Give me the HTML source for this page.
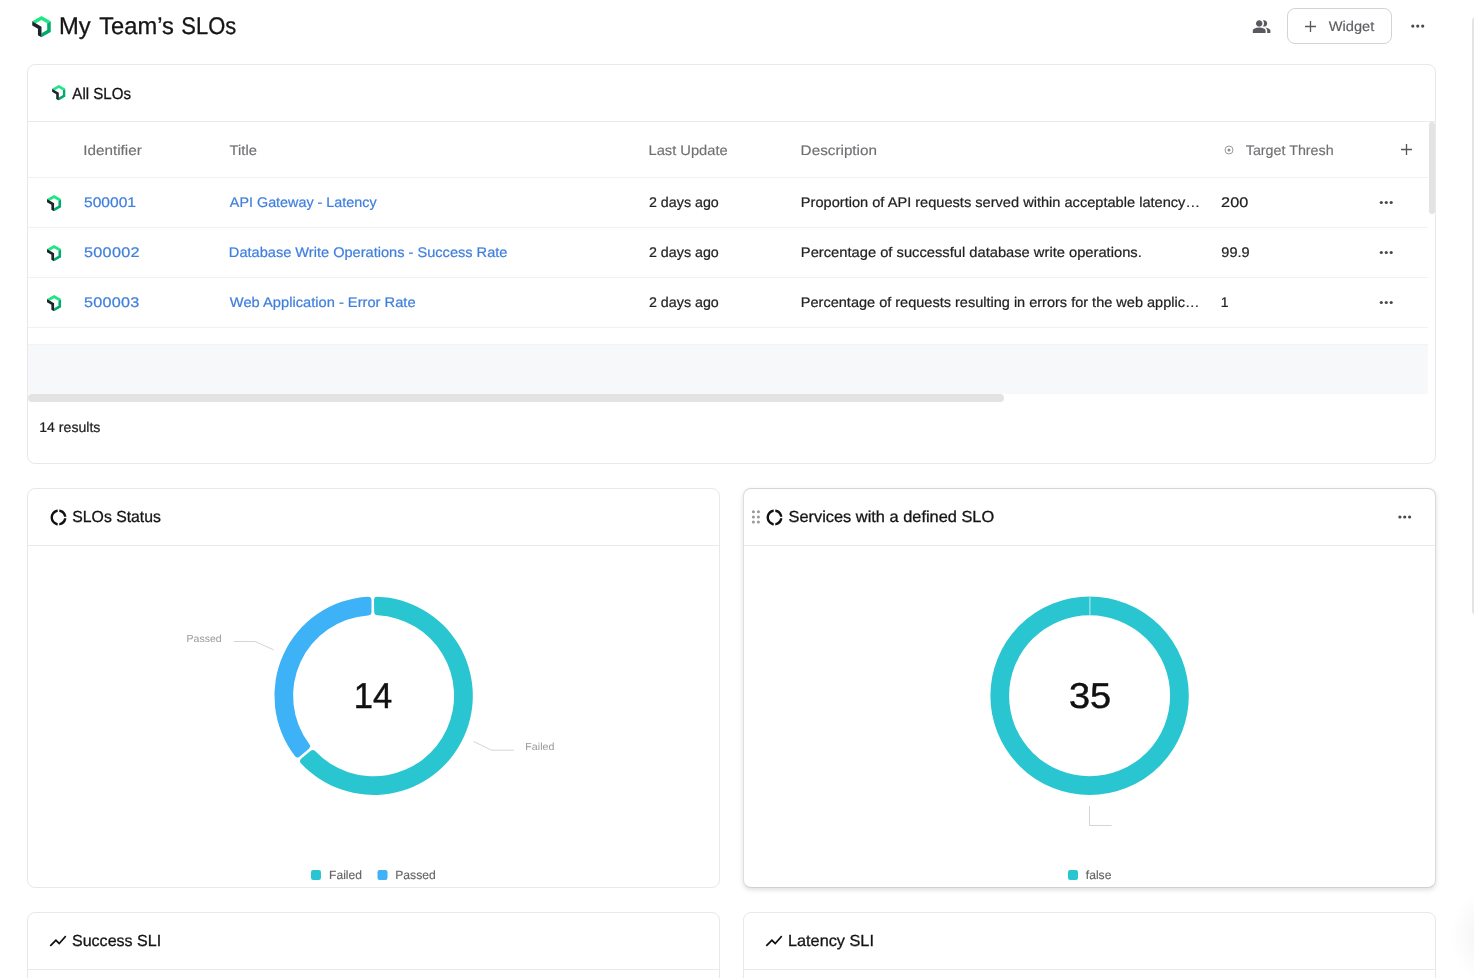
<!DOCTYPE html>
<html lang="en">
<head>
<meta charset="utf-8">
<title>My Team's SLOs</title>
<style>
*{box-sizing:border-box;margin:0;padding:0}
html,body{width:1474px;height:978px;overflow:hidden;background:#fff}
body{position:relative;font-family:"Liberation Sans",Arial,sans-serif;-webkit-font-smoothing:antialiased}
.t{position:absolute;left:0;top:0;white-space:nowrap;font-weight:400;transform-origin:0 0}
#txt{position:absolute;left:0;top:0;width:1474px;height:978px;will-change:transform}
.abs{position:absolute}
.card{position:absolute;background:#fff;border:1px solid #e8e8eb;border-radius:8px}
.hl{position:absolute;height:1px;background:#e9eaf0}
.rl{position:absolute;height:1px;background:#f1f1f4;left:28px;width:1400px}
svg{position:absolute;overflow:visible}
#t_title1{font-size:24px;line-height:24px;color:#151517;transform:matrix(0.9906,0,.001,1,58.95,14);-webkit-text-stroke:0.3px}
#t_title2{font-size:24px;line-height:24px;color:#151517;transform:matrix(0.9871,0,.001,1,99.25,14);-webkit-text-stroke:0.3px}
#t_title3{font-size:24px;line-height:24px;color:#151517;transform:matrix(0.9142,0,.001,1,181.35,14);-webkit-text-stroke:0.3px}
#t_all{font-size:16px;line-height:16px;color:#151517;transform:matrix(0.9414,0,.001,1,72.35,86);-webkit-text-stroke:0.3px}
#h_id{font-size:14px;line-height:14px;color:#707074;transform:matrix(1.0884,0,.001,1,83.25,143);-webkit-text-stroke:0.15px}
#h_title{font-size:14px;line-height:14px;color:#707074;transform:matrix(1.0551,0,.001,1,229.55,143);-webkit-text-stroke:0.15px}
#h_upd{font-size:14px;line-height:14px;color:#707074;transform:matrix(1.0497,0,.001,1,648.45,143);-webkit-text-stroke:0.15px}
#h_desc{font-size:14px;line-height:14px;color:#707074;transform:matrix(1.0907,0,.001,1,800.60,143);-webkit-text-stroke:0.15px}
#h_tgt{font-size:14px;line-height:14px;color:#707074;transform:matrix(1.0206,0,.001,1,1245.75,143);-webkit-text-stroke:0.15px}
#r1_id{font-size:14px;line-height:14px;color:#3f7fdd;transform:matrix(1.1134,0,.001,1,84.00,195);-webkit-text-stroke:0.22px}
#r2_id{font-size:14px;line-height:14px;color:#3f7fdd;transform:matrix(1.1600,0,.001,1,84.00,245);letter-spacing:0.236px;-webkit-text-stroke:0.22px}
#r3_id{font-size:14px;line-height:14px;color:#3f7fdd;transform:matrix(1.1600,0,.001,1,84.00,295);letter-spacing:0.193px;-webkit-text-stroke:0.22px}
#r1_t{font-size:14px;line-height:14px;color:#3f7fdd;transform:matrix(1.0248,0,.001,1,229.85,195);-webkit-text-stroke:0.22px}
#r2_t{font-size:14px;line-height:14px;color:#3f7fdd;transform:matrix(1.0417,0,.001,1,228.85,245);-webkit-text-stroke:0.22px}
#r3_t{font-size:14px;line-height:14px;color:#3f7fdd;transform:matrix(1.0481,0,.001,1,229.85,295);-webkit-text-stroke:0.22px}
#r1_u{font-size:14px;line-height:14px;color:#222225;transform:matrix(1.0197,0,.001,1,648.95,195);-webkit-text-stroke:0.22px}
#r2_u{font-size:14px;line-height:14px;color:#222225;transform:matrix(1.0197,0,.001,1,648.95,245);-webkit-text-stroke:0.22px}
#r3_u{font-size:14px;line-height:14px;color:#222225;transform:matrix(1.0197,0,.001,1,648.95,295);-webkit-text-stroke:0.22px}
#r1_d{font-size:14px;line-height:14px;color:#222225;transform:matrix(1.0424,0,.001,1,800.85,195);-webkit-text-stroke:0.22px}
#r2_d{font-size:14px;line-height:14px;color:#222225;transform:matrix(1.0505,0,.001,1,800.85,245);-webkit-text-stroke:0.22px}
#r3_d{font-size:14px;line-height:14px;color:#222225;transform:matrix(1.0368,0,.001,1,800.85,295);-webkit-text-stroke:0.22px}
#r1_v{font-size:14px;line-height:14px;color:#222225;transform:matrix(1.1600,0,.001,1,1221.10,195);letter-spacing:0.058px;-webkit-text-stroke:0.22px}
#r2_v{font-size:14px;line-height:14px;color:#222225;transform:matrix(1.0385,0,.001,1,1221.35,245);-webkit-text-stroke:0.22px}
#r3_v{font-size:14px;line-height:14px;color:#222225;transform:matrix(1.0000,0,.001,1,1220.85,295);-webkit-text-stroke:0.22px}
#t_res{font-size:14px;line-height:14px;color:#222225;transform:matrix(1.0082,0,.001,1,39.20,420);-webkit-text-stroke:0.22px}
#t_c2{font-size:16px;line-height:16px;color:#151517;transform:matrix(0.9864,0,.001,1,72.30,509);-webkit-text-stroke:0.3px}
#t_c3{font-size:16px;line-height:16px;color:#151517;transform:matrix(1.0234,0,.001,1,788.50,509);-webkit-text-stroke:0.3px}
#t_c4{font-size:16px;line-height:16px;color:#151517;transform:matrix(1.0031,0,.001,1,71.95,933);-webkit-text-stroke:0.3px}
#t_c5{font-size:16px;line-height:16px;color:#151517;transform:matrix(1.0172,0,.001,1,787.95,933);-webkit-text-stroke:0.3px}
#l_pass{font-size:10.25px;line-height:10.25px;color:#999;transform:matrix(1.0277,0,.001,1,186.55,634)}
#l_fail{font-size:10.25px;line-height:10.25px;color:#999;transform:matrix(1.0404,0,.001,1,525.35,742)}
#g_fail{font-size:12px;line-height:12px;color:#666;transform:matrix(1.0054,0,.001,1,329.05,869);-webkit-text-stroke:0.15px}
#g_pass{font-size:12px;line-height:12px;color:#666;transform:matrix(1.0125,0,.001,1,395.20,869);-webkit-text-stroke:0.15px}
#g_false{font-size:12px;line-height:12px;color:#666;transform:matrix(1.0108,0,.001,1,1085.80,869);-webkit-text-stroke:0.15px}
#n_14{font-size:36px;line-height:36px;color:#111;transform:matrix(0.9587,0,.001,1,353.70,678);-webkit-text-stroke:0.45px}
#n_35{font-size:36px;line-height:36px;color:#111;transform:matrix(1.0550,0,.001,1,1068.90,678);-webkit-text-stroke:0.45px}
#t_widget{font-size:14px;line-height:14px;color:#5e5e62;transform:matrix(1.0441,0,.001,1,1328.80,19);-webkit-text-stroke:0.15px}
</style>
</head>
<body>
<svg width="0" height="0" style="position:absolute">
 <defs>
  <symbol id="nr" viewBox="0 0 832.8 959.8">
   <path d="M672.6 332.3l160.2-92.4v480L416.4 959.8V775.2l256.2-147.6z" fill="#00ac69"/>
   <path d="M416.4 184.6L160.2 332.3 0 239.9 416.4 0l416.4 239.9-160.2 92.4z" fill="#1ce783"/>
   <path d="M256.2 572.3L0 424.6V239.9l416.4 240v479.9l-160.2-92.2z" fill="#1d252c"/>
  </symbol>
  <symbol id="donut" viewBox="0 0 24 24">
   <path fill="#111" d="M11 5.080V2c-5 .5-9 4.810-9 10s4 9.500 9 10v-3.080c-3-.480-6-3.400-6-6.920s3-6.440 6-6.920zM18.970 11H22c-.470-5-4-8.530-9-9v3.080C16 5.510 18.540 8 18.970 11zM13 18.920V22c5-.470 8.530-4 9-9h-3.030c-.430 3-2.970 5.490-5.970 5.920z"/>
  </symbol>
  <symbol id="chart" viewBox="0 0 24 24">
   <path fill="#111" d="M3.500 18.490l6-6.010 4 4L22 6.920l-1.410-1.410-7.090 7.970-4-4L2 16.990z"/>
  </symbol>
 </defs>
</svg>

<!-- page header -->
<svg style="left:31.9px;top:16px" width="19" height="21.3"><use href="#nr" width="19" height="21.3"/></svg>
<svg style="left:1251.7px;top:16.7px" width="19.2" height="19.2" viewBox="0 0 24 24"><path fill="#5a5a5e" d="M1 20v-2.800q0-.850.438-1.562T2.600 14.550q1.550-.775 3.150-1.162T9 13q1.650 0 3.250.388t3.150 1.162q.725.375 1.163 1.088T17 17.200V20zm18 0v-3q0-1.100-.612-2.113T16.650 13.150q1.275.150 2.400.513t2.100.887q.900.500 1.375 1.112T23 17v3zM9 12q-1.650 0-2.825-1.175T5 8t1.175-2.825T9 4t2.825 1.175T13 8t-1.175 2.825T9 12m10-4q0 1.650-1.175 2.825T15 12q-.275 0-.700-.062t-.700-.138q.675-.800 1.038-1.775T15 8t-.362-2.025T13.600 4.200q.350-.125.700-.163T15 4q1.650 0 2.825 1.175T19 8"/></svg>
<div class="abs" style="left:1287px;top:8px;width:105px;height:36px;border:1px solid #d3d3d5;border-radius:8px"></div>
<svg style="left:1304.8px;top:20.7px" width="11" height="11" viewBox="0 0 11 11"><path d="M5.500 0v11M0 5.500h11" stroke="#5a5a5e" stroke-width="1.300" fill="none"/></svg>

<!-- card 1 : table -->
<div class="card" style="left:27px;top:64px;width:1409px;height:400px"></div>
<svg style="left:51.8px;top:85.4px" width="13.6" height="15.4"><use href="#nr" width="13.6" height="15.4"/></svg>
<div class="hl" style="left:28px;top:121px;width:1407px"></div>
<div class="rl" style="top:177px"></div>
<div class="rl" style="top:227px"></div>
<div class="rl" style="top:277px"></div>
<div class="rl" style="top:327px"></div>
<div class="abs" style="left:28px;top:344px;width:1400px;height:50px;background:#f7f8fa;border-top:1px solid #f2f3f5"></div>
<div class="abs" style="left:28px;top:394px;width:975.500px;height:8px;border-radius:4px;background:#e3e3e3"></div>
<div class="abs" style="left:1429px;top:122px;width:6px;height:92px;border-radius:3px;background:#e3e3e3"></div>
<svg style="left:46.700px;top:194.57px" width="14.2" height="16.3"><use href="#nr" width="14.2" height="16.3"/></svg>
<svg style="left:46.700px;top:244.57px" width="14.2" height="16.3"><use href="#nr" width="14.2" height="16.3"/></svg>
<svg style="left:46.700px;top:294.57px" width="14.2" height="16.3"><use href="#nr" width="14.2" height="16.3"/></svg>
<svg style="left:1224.400px;top:145px" width="10" height="10" viewBox="0 0 10 10"><circle cx="5" cy="5" r="4" fill="none" stroke="#8e8e92" stroke-width="0.900"/><circle cx="5" cy="5" r="1.500" fill="#8e8e92"/></svg>
<svg style="left:1401px;top:144.300px" width="11" height="11" viewBox="0 0 11 11"><path d="M5.500 0v11M0 5.500h11" stroke="#55555a" stroke-width="1.300" fill="none"/></svg>

<!-- card 2 : SLOs status -->
<div class="card" style="left:27px;top:488px;width:693px;height:400px"></div>
<div class="hl" style="left:28px;top:545px;width:691px"></div>
<svg style="left:48.850px;top:507.850px" width="19" height="19"><use href="#donut" width="19" height="19"/></svg>
<svg style="left:0;top:0" width="1474" height="978" viewBox="0 0 1474 978">
 <path d="M377.50 596.63A99.20 99.20 0 1 1 301.08 763.43Q298.73 760.83 301.38 758.54L310.37 751.05Q313.01 748.75 315.37 751.33A80.50 80.50 0 1 0 377.67 615.35Q374.17 615.25 374.19 611.75L373.99 600.05Q374.00 596.55 377.50 596.63Z" fill="#29c5d1"/>
 <path d="M294.88 756.11A99.20 99.20 0 0 1 367.90 596.71Q371.40 596.57 371.48 600.07L371.48 611.78Q371.57 615.28 368.07 615.44A80.50 80.50 0 0 0 309.17 744.01Q311.33 746.76 308.62 748.98L299.75 756.62Q297.05 758.85 294.88 756.11Z" fill="#3db2f6"/>
 <path d="M233.800 641.500H255.200L273.700 649.900" fill="none" stroke="#d4d4d4" stroke-width="1"/>
 <path d="M473.600 741.500L491.600 750.200H513.800" fill="none" stroke="#d4d4d4" stroke-width="1"/>
 <rect x="311" y="870" width="10" height="10" rx="2.200" fill="#29c5d1"/>
 <rect x="377.500" y="870" width="10" height="10" rx="2.200" fill="#3db2f6"/>
</svg>

<!-- card 3 : Services with a defined SLO (hovered) -->
<div class="card" style="left:743px;top:488px;width:693px;height:400px;border-color:#d6d6d8 #d9d9db #d0d0d2 #dedee0;box-shadow:0 2px 5px rgba(0,0,0,.13)"></div>
<div class="hl" style="left:744px;top:545px;width:691px"></div>
<svg style="left:764.850px;top:507.850px" width="19" height="19"><use href="#donut" width="19" height="19"/></svg>
<svg style="left:0;top:0" width="1474" height="978" viewBox="0 0 1474 978">
 <circle cx="1089.6" cy="695.75" r="89.85" fill="none" stroke="#29c5d1" stroke-width="18.70"/>
 <rect x="1089.400" y="596" width="1" height="19.500" fill="#bdeef2"/>
 <path d="M1089.500 806V825.500H1111.700" fill="none" stroke="#d4d4d4" stroke-width="1"/>
 <rect x="1068" y="870" width="10" height="10" rx="2.200" fill="#29c5d1"/>
</svg>

<!-- card 4/5 -->
<div class="card" style="left:27px;top:912px;width:693px;height:400px"></div>
<div class="hl" style="left:28px;top:969px;width:691px"></div>
<svg style="left:48.300px;top:931px" width="20" height="20"><use href="#chart" width="20" height="20"/></svg>
<div class="card" style="left:743px;top:912px;width:693px;height:400px"></div>
<div class="hl" style="left:744px;top:969px;width:691px"></div>
<svg style="left:764.200px;top:931px" width="20" height="20"><use href="#chart" width="20" height="20"/></svg>

<svg style="left:0;top:0" width="1474" height="978" viewBox="0 0 1474 978">
<circle cx="1412.8" cy="26.05" r="1.6" fill="#4a4a4e"/><circle cx="1417.75" cy="26.05" r="1.6" fill="#4a4a4e"/><circle cx="1422.7" cy="26.05" r="1.6" fill="#4a4a4e"/>
<circle cx="1381.3" cy="202.5" r="1.6" fill="#4a4a4e"/><circle cx="1386.25" cy="202.5" r="1.6" fill="#4a4a4e"/><circle cx="1391.2" cy="202.5" r="1.6" fill="#4a4a4e"/>
<circle cx="1381.3" cy="252.5" r="1.6" fill="#4a4a4e"/><circle cx="1386.25" cy="252.5" r="1.6" fill="#4a4a4e"/><circle cx="1391.2" cy="252.5" r="1.6" fill="#4a4a4e"/>
<circle cx="1381.3" cy="302.5" r="1.6" fill="#4a4a4e"/><circle cx="1386.25" cy="302.5" r="1.6" fill="#4a4a4e"/><circle cx="1391.2" cy="302.5" r="1.6" fill="#4a4a4e"/>
<circle cx="1399.9" cy="517" r="1.6" fill="#4a4a4e"/><circle cx="1404.75" cy="517" r="1.6" fill="#4a4a4e"/><circle cx="1409.6" cy="517" r="1.6" fill="#4a4a4e"/>
<circle cx="753.4" cy="511.8" r="1.5" fill="#999"/><circle cx="758.4" cy="511.8" r="1.5" fill="#999"/>
<circle cx="753.4" cy="516.9" r="1.5" fill="#999"/><circle cx="758.4" cy="516.9" r="1.5" fill="#999"/>
<circle cx="753.4" cy="521.9" r="1.5" fill="#999"/><circle cx="758.4" cy="521.9" r="1.5" fill="#999"/>
</svg>
<!-- page scrollbar -->
<div class="abs" style="left:1472px;top:17px;width:8px;height:598px;border-radius:4px 0 0 4px;background:#e4e4e4"></div>
<div class="abs" style="left:1444px;top:884px;width:30px;height:94px;background:radial-gradient(circle at 58px 52px,rgba(0,0,0,.045) 22px,rgba(0,0,0,.02) 36px,rgba(0,0,0,0) 52px)"></div>

<div id="txt">
<span class="t" id="t_title1">My </span>
<span class="t" id="t_title2">Team’s </span>
<span class="t" id="t_title3">SLOs</span>
<span class="t" id="t_all">All SLOs</span>
<span class="t" id="h_id">Identifier</span>
<span class="t" id="h_title">Title</span>
<span class="t" id="h_upd">Last Update</span>
<span class="t" id="h_desc">Description</span>
<span class="t" id="h_tgt">Target Thresh</span>
<span class="t" id="r1_id">500001</span>
<span class="t" id="r2_id">500002</span>
<span class="t" id="r3_id">500003</span>
<span class="t" id="r1_t">API Gateway - Latency</span>
<span class="t" id="r2_t">Database Write Operations - Success Rate</span>
<span class="t" id="r3_t">Web Application - Error Rate</span>
<span class="t" id="r1_u">2 days ago</span>
<span class="t" id="r2_u">2 days ago</span>
<span class="t" id="r3_u">2 days ago</span>
<span class="t" id="r1_d">Proportion of API requests served within acceptable latency…</span>
<span class="t" id="r2_d">Percentage of successful database write operations.</span>
<span class="t" id="r3_d">Percentage of requests resulting in errors for the web applic…</span>
<span class="t" id="r1_v">200</span>
<span class="t" id="r2_v">99.9</span>
<span class="t" id="r3_v">1</span>
<span class="t" id="t_res">14 results</span>
<span class="t" id="t_c2">SLOs Status</span>
<span class="t" id="t_c3">Services with a defined SLO</span>
<span class="t" id="t_c4">Success SLI</span>
<span class="t" id="t_c5">Latency SLI</span>
<span class="t" id="l_pass">Passed</span>
<span class="t" id="l_fail">Failed</span>
<span class="t" id="g_fail">Failed</span>
<span class="t" id="g_pass">Passed</span>
<span class="t" id="g_false">false</span>
<span class="t" id="n_14">14</span>
<span class="t" id="n_35">35</span>
<span class="t" id="t_widget">Widget</span>
</div>
</body>
</html>
